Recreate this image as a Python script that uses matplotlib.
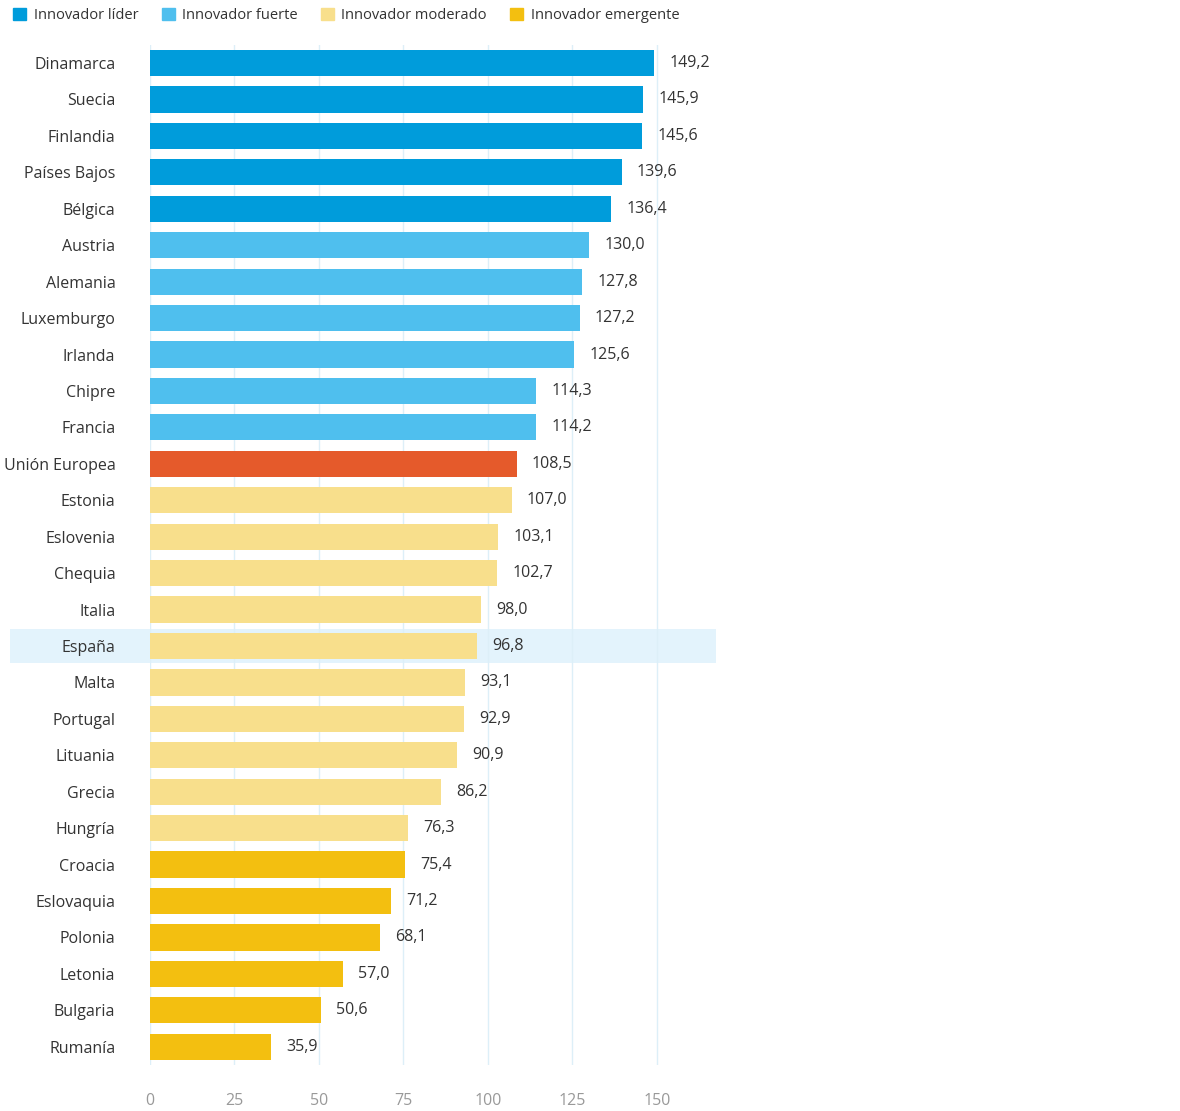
import matplotlib
matplotlib.use("Agg")
import matplotlib.pyplot as plt
from matplotlib.patches import Rectangle

plt.rcParams["font.family"] = ["Open Sans", "DejaVu Sans"]

countries = ["Dinamarca", "Suecia", "Finlandia", "Países Bajos", "Bélgica", "Austria",
             "Alemania", "Luxemburgo", "Irlanda", "Chipre", "Francia", "Unión Europea",
             "Estonia", "Eslovenia", "Chequia", "Italia", "España", "Malta", "Portugal",
             "Lituania", "Grecia", "Hungría", "Croacia", "Eslovaquia", "Polonia",
             "Letonia", "Bulgaria", "Rumanía"]
values = [149.2, 145.9, 145.6, 139.6, 136.4, 130.0, 127.8, 127.2, 125.6, 114.3, 114.2,
          108.5, 107.0, 103.1, 102.7, 98.0, 96.8, 93.1, 92.9, 90.9, 86.2, 76.3, 75.4,
          71.2, 68.1, 57.0, 50.6, 35.9]
groups = ["lider"] * 5 + ["fuerte"] * 6 + ["ue"] + ["moderado"] * 10 + ["emergente"] * 6
legend_labels = {"lider": "Innovador líder", "fuerte": "Innovador fuerte",
                 "moderado": "Innovador moderado", "emergente": "Innovador emergente"}
colors = {"lider": "#009CDB", "fuerte": "#4FBFEE", "moderado": "#F8DF8C",
          "emergente": "#F3BF10", "ue": "#E55A2B"}
highlight = "España"
ticks = [0, 25, 50, 75, 100, 125, 150]

fig = plt.figure(figsize=(11.8, 11.11), dpi=100)
ax = fig.add_axes([150 / 1180, 1 - 1065 / 1111, 566 / 1180, (1065 - 44.8) / 1111])

ypos = list(range(len(countries)))
hi = countries.index(highlight)
ax.add_patch(Rectangle((-140 / 566, hi - 0.47), 1 + 140 / 566, 0.94,
                       transform=ax.get_yaxis_transform(), color="#E3F3FC",
                       clip_on=False, zorder=0, lw=0))

ax.barh(ypos, values, height=0.72, color=[colors[g] for g in groups], zorder=2)
for y, v in zip(ypos, values):
    ax.text(v + 4.5, y, f"{v:.1f}".replace(".", ","), va="center", ha="left",
            fontsize=11.5, color="#333333", zorder=3)

ax.set_xlim(0, 167.5)
ax.set_ylim(len(countries) - 0.5, -0.5)
ax.set_yticks(ypos)
ax.set_yticklabels(countries, fontsize=11.5, color="#333333")
ax.set_xticks(ticks)
ax.set_xticklabels([str(t) for t in ticks], fontsize=11.5, color="#999999")
ax.tick_params(length=0)
ax.tick_params(axis="y", pad=25)
ax.tick_params(axis="x", pad=20)
ax.grid(axis="x", color="#DDEFF8", lw=1, zorder=1)
ax.set_axisbelow(True)
for s in ax.spines.values():
    s.set_visible(False)

handles = [Rectangle((0, 0), 1, 1, color=colors[k]) for k in legend_labels]
fig.legend(handles, list(legend_labels.values()), loc="upper left",
           bbox_to_anchor=(0.0, 1.005), ncol=4, frameon=False, fontsize=10.5,
           handlelength=0.9, handleheight=0.9, handletextpad=0.5, columnspacing=1.6,
           labelcolor="#333333")

fig.savefig("out.png", dpi=100)
